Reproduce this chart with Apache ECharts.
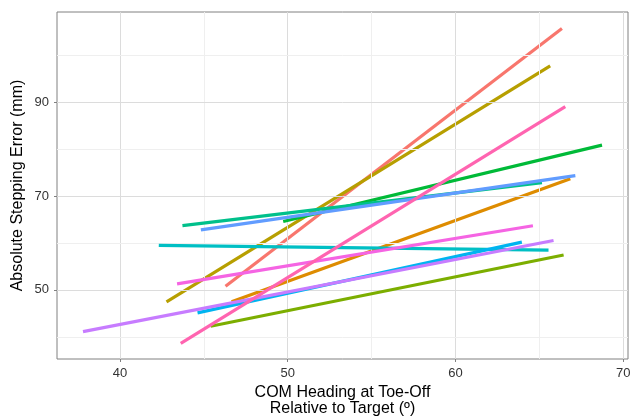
<!DOCTYPE html>
<html><head><meta charset="utf-8">
<script src="https://cdn.jsdelivr.net/npm/echarts@6/dist/echarts.min.js"></script>
<style>html,body{margin:0;padding:0;background:#fff}#c{width:630px;height:417px}</style>
</head><body><div id="c"></div>
<script>
const xTicks = [40, 50, 60, 70];
const xMinor = [45, 55, 65];
const yTicks = [50, 70, 90];
const yMinor = [40, 60, 80, 100];
const groups = ['S1','S2','S3','S4','S5','S6','S7','S8','S9','S10','S11','S12'];
const colors = ['#F8766D','#DE8C00','#B79F00','#7CAE00','#00BA38','#00C08B','#00BFC4','#00B4F0','#619CFF','#C77CFF','#F564E3','#FF64B0'];
const startX = [46.29, 46.65, 42.77, 45.40, 49.73, 43.72, 42.31, 44.62, 44.82, 37.79, 43.40, 43.62];
const startY = [50.77, 47.45, 47.45, 42.25, 64.60, 63.70, 59.50, 45.10, 62.80, 41.10, 51.30, 38.60];
const endX   = [66.35, 66.85, 65.65, 66.45, 68.74, 65.16, 65.55, 63.96, 67.15, 65.85, 64.62, 66.55];
const endY   = [105.8, 73.70, 97.80, 57.45, 80.90, 72.90, 58.50, 60.20, 74.40, 60.55, 63.70, 89.10];

const chart = echarts.init(document.getElementById('c'), null, {renderer:'canvas'});
const font = 'Liberation Sans, Arial, sans-serif';
const gridLines = [];
xTicks.forEach(v => gridLines.push({xAxis: v, lineStyle:{color:'#dcdcdc', width:1, type:'solid'}}));
xMinor.forEach(v => gridLines.push({xAxis: v, lineStyle:{color:'#efefef', width:1, type:'solid'}}));
yTicks.forEach(v => gridLines.push({yAxis: v, lineStyle:{color:'#dcdcdc', width:1, type:'solid'}}));
yMinor.forEach(v => gridLines.push({yAxis: v, lineStyle:{color:'#efefef', width:1, type:'solid'}}));

const series = [{
  type:'line', data:[], silent:true, z:1,
  markLine:{silent:true, symbol:['none','none'], label:{show:false}, animation:false, data:gridLines}
}];
groups.forEach((g,i) => {
  series.push({
    name:g, type:'line', showSymbol:false, symbol:'none', z:2+i,
    lineStyle:{color:colors[i], width:3.2, cap:'butt'},
    itemStyle:{color:colors[i]},
    data:[[startX[i], startY[i]], [endX[i], endY[i]]]
  });
});

chart.setOption({
  animation:false,
  backgroundColor:'#fff',
  grid:{left:57, top:12, right:2, bottom:58, show:true, borderColor:'#808080', borderWidth:1, backgroundColor:'transparent', containLabel:false, outerBoundsMode:'none'},
  xAxis:{
    type:'value', min:36.24, max:70.29,
    name:'COM Heading at Toe-Off\nRelative to Target (º)', nameLocation:'middle', nameGap:26,
    nameTextStyle:{fontFamily:font, fontSize:16, color:'#000', lineHeight:16, verticalAlign:'top'},
    axisLine:{show:false},
    axisTick:{show:true, length:3, lineStyle:{color:'#808080'}, customValues:xTicks},
    axisLabel:{fontFamily:font, fontSize:13, color:'#333', margin:8, customValues:xTicks},
    splitLine:{show:false}
  },
  yAxis:{
    type:'value', min:35.26, max:109.3,
    name:'Absolute Stepping Error (mm)', nameLocation:'middle', nameGap:31, nameRotate:90, nameMoveOverlap:false,
    nameTextStyle:{fontFamily:font, fontSize:16, color:'#000'},
    axisLine:{show:false},
    axisTick:{show:true, length:3, lineStyle:{color:'#808080'}, customValues:yTicks},
    axisLabel:{fontFamily:font, fontSize:13, color:'#333', margin:8, customValues:yTicks},
    splitLine:{show:false}
  },
  series:series
});
</script></body></html>
